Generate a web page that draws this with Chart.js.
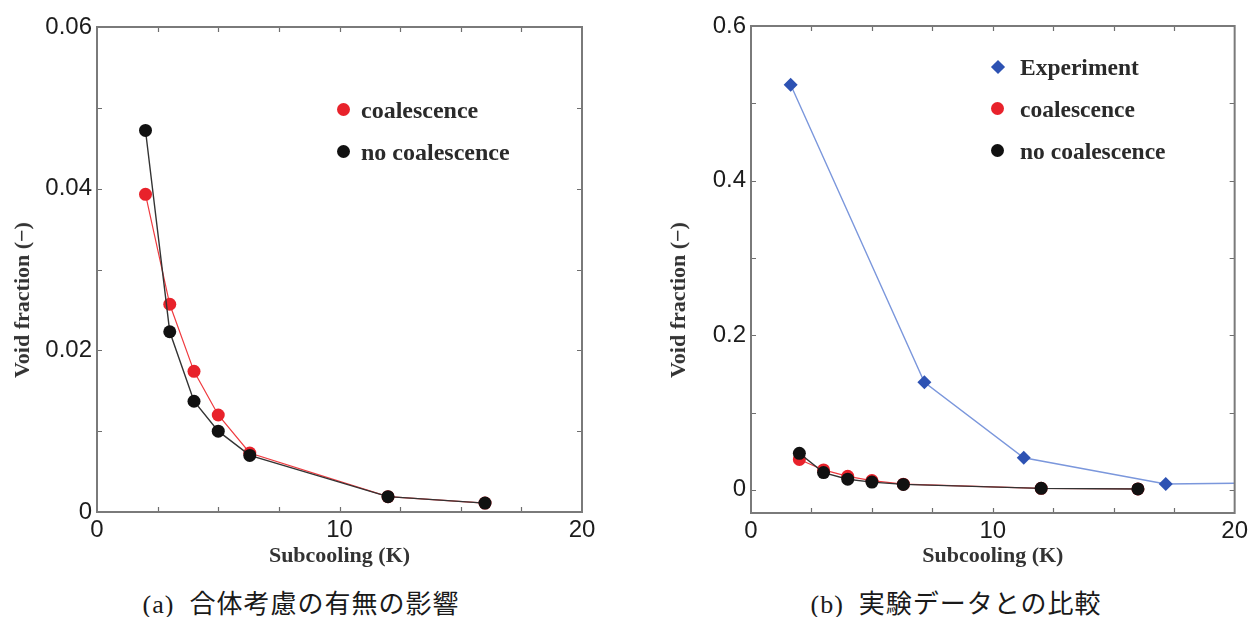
<!DOCTYPE html>
<html>
<head>
<meta charset="utf-8">
<script src="https://cdn.jsdelivr.net/npm/chart.js@4.4.1/dist/chart.umd.min.js"></script>
<style>
  html, body { margin: 0; padding: 0; background: #fff; }
  body { width: 1252px; height: 617px; position: relative; overflow: hidden; }
  .box { position: absolute; top: 0; height: 580px; }
  #boxA { left: 0; width: 620px; }
  #boxB { left: 630px; width: 622px; }
  .caption { position: absolute; top: 591px; line-height: 28px; height: 28px; font-size: 26px; font-family: "Liberation Serif", "Noto Sans CJK JP", serif; letter-spacing: 1px; color: #1a1a1a; white-space: pre; transform: translateX(-50%); }
  .ytitle { position: absolute; top: 300px; font: bold 22px "Liberation Serif", serif; color: #333; white-space: nowrap; transform: translate(-50%, -50%) rotate(-90deg); }
  .legend { position: absolute; font: bold 24px "Liberation Serif", serif; color: #2a2a2a; }
  .legend .row { position: absolute; white-space: nowrap; height: 26px; line-height: 26px; }
  .legend .mk { position: absolute; left: 0; top: 6px; width: 13px; height: 13px; border-radius: 50%; }
  .legend .dia { position: absolute; left: 2px; top: 8px; width: 10px; height: 10px; transform: rotate(45deg); background: #2d52b3; }
  .legend .tx { position: absolute; left: 24px; top: 0; }
</style>
</head>
<body>
<div class="box" id="boxA"><canvas id="chartA"></canvas></div>
<div class="box" id="boxB"><canvas id="chartB"></canvas></div>

<div class="ytitle" style="left:22px;">Void fraction (−)</div>
<div class="ytitle" style="left:678px;">Void fraction (−)</div>

<div class="legend" style="left:337px; top:97px;">
  <div class="row" style="top:0;"><span class="mk" style="background:#e8222b;"></span><span class="tx">coalescence</span></div>
  <div class="row" style="top:42px;"><span class="mk" style="background:#111;"></span><span class="tx">no coalescence</span></div>
</div>
<div class="legend" style="left:991px; top:54px; font-size:23.5px;">
  <div class="row" style="top:0;"><span class="dia"></span><span class="tx" style="left:29px;">Experiment</span></div>
  <div class="row" style="top:42px;"><span class="mk" style="background:#e8222b;"></span><span class="tx" style="left:29px;">coalescence</span></div>
  <div class="row" style="top:84px;"><span class="mk" style="background:#111;"></span><span class="tx" style="left:29px;">no coalescence</span></div>
</div>

<div class="caption" style="left:301px;">(a)  合体考慮の有無の影響</div>
<div class="caption" style="left:956px;">(b)  実験データとの比較</div>

<script>
// ---------- data ----------
const subcooling      = [2, 3, 4, 5, 6.3, 12, 16];
const coalescence     = [0.0393, 0.0257, 0.0174, 0.0120, 0.0073, 0.0019, 0.0011];
const noCoalescence   = [0.0472, 0.0223, 0.0137, 0.0100, 0.0070, 0.0019, 0.0011];
const expSubcooling   = [1.64, 7.17, 11.28, 17.15, 24];
const expVoid         = [0.524, 0.139, 0.0415, 0.0075, 0.010];

// ---------- ticks ----------
const xTickValues   = [0, 2.5, 5, 7.5, 10, 12.5, 15, 17.5, 20];
const xLabelValues  = [0, 10, 20];
const yTickValuesA  = [0, 0.01, 0.02, 0.03, 0.04, 0.05, 0.06];
const yLabelValuesA = [0, 0.02, 0.04, 0.06];
const yTickValuesB  = [0, 0.1, 0.2, 0.3, 0.4, 0.5, 0.6];
const yLabelValuesB = [0, 0.2, 0.4, 0.6];

const labelsFor = (vals, dec) => v => {
  const hit = vals.some(t => Math.abs(t - v) < 1e-9);
  if (!hit) return '';
  return v === 0 ? '0' : (dec ? v.toFixed(dec) : String(v));
};

// inward tick marks on all four sides + frame
const framePlugin = {
  id: 'frame',
  afterDatasetsDraw(chart) {
    const {ctx, chartArea: a, scales: {x, y}} = chart;
    ctx.save();
    ctx.strokeStyle = '#6e6e6e';
    ctx.lineWidth = 1.2;
    const L = 5;
    ctx.beginPath();
    x.ticks.forEach(t => {
      const px = Math.round(x.getPixelForValue(t.value)) + 0.5;
      if (px <= a.left + 1 || px >= a.right - 1) return;
      ctx.moveTo(px, a.bottom); ctx.lineTo(px, a.bottom - L);
      ctx.moveTo(px, a.top); ctx.lineTo(px, a.top + L);
    });
    y.ticks.forEach(t => {
      const py = Math.round(y.getPixelForValue(t.value)) + 0.5;
      if (py <= a.top + 1 || py >= a.bottom - 1) return;
      ctx.moveTo(a.left, py); ctx.lineTo(a.left + L, py);
      ctx.moveTo(a.right, py); ctx.lineTo(a.right - L, py);
    });
    ctx.stroke();
    ctx.strokeStyle = '#7a7a7a';
    ctx.lineWidth = 2;
    ctx.strokeRect(a.left, a.top, a.right - a.left, a.bottom - a.top);
    ctx.restore();
  }
};

const tickFont  = {family: '"Liberation Sans", Arial, sans-serif', size: 24};
const titleFont = {family: '"Liberation Serif", serif', size: 22, weight: 'bold', lineHeight: 1.1};

function makeOptions(cfg) {
  return {
    responsive: false,
    animation: false,
    events: [],
    layout: {padding: {left: 0, right: cfg.padRight, top: cfg.padTop, bottom: 12}},
    plugins: {legend: {display: false}, tooltip: {enabled: false}},
    scales: {
      x: {
        type: 'linear', min: 0, max: 20,
        afterBuildTicks: s => { s.ticks = xTickValues.map(v => ({value: v})); },
        afterFit: s => { s.height = cfg.xHeight; },
        grid: {display: false, drawTicks: false},
        border: {display: false},
        ticks: {autoSkip: false, maxRotation: 0, padding: 4, color: '#1c1c1c', font: tickFont,
                callback: labelsFor(xLabelValues, 0)},
        title: {display: true, text: 'Subcooling (K)', color: '#333', font: titleFont, padding: {top: 0, bottom: 0}}
      },
      y: {
        type: 'linear', min: cfg.yMin, max: cfg.yMax,
        afterBuildTicks: s => { s.ticks = cfg.yTicks.map(v => ({value: v})); },
        afterFit: s => { s.width = cfg.yWidth; },
        grid: {display: false, drawTicks: false},
        border: {display: false},
        ticks: {autoSkip: false, padding: 5, color: '#1c1c1c', font: tickFont,
                callback: labelsFor(cfg.yLabels, cfg.dec)},
        title: {display: false}
      }
    }
  };
}

const pts = (xs, ys) => xs.map((x, i) => ({x, y: ys[i]}));

const redSet = () => ({
  label: 'coalescence', data: pts(subcooling, coalescence), order: 2,
  borderColor: '#ef3a3f', borderWidth: 1.2, backgroundColor: '#e8222b',
  pointRadius: 6.5, pointBorderWidth: 0, pointStyle: 'circle', tension: 0
});
const blackSet = () => ({
  label: 'no coalescence', data: pts(subcooling, noCoalescence), order: 1,
  borderColor: '#333', borderWidth: 1.4, backgroundColor: '#111',
  pointRadius: 6.5, pointBorderWidth: 0, pointStyle: 'circle', tension: 0
});

const cA = document.getElementById('chartA');
cA.width = 620; cA.height = 580;
new Chart(cA, {
  type: 'line',
  data: {datasets: [redSet(), blackSet()]},
  options: makeOptions({padRight: 38, padTop: 27, xHeight: 56, yWidth: 97, yMin: 0, yMax: 0.06,
                        yTicks: yTickValuesA, yLabels: yLabelValuesA, dec: 2}),
  plugins: [framePlugin]
});

const cB = document.getElementById('chartB');
cB.width = 622; cB.height = 580;
new Chart(cB, {
  type: 'line',
  data: {datasets: [
    {label: 'Experiment', data: pts(expSubcooling, expVoid), order: 3,
     borderColor: '#7b97dc', borderWidth: 1.4, backgroundColor: '#2d52b3',
     pointRadius: 7, pointBorderWidth: 0, pointStyle: 'rectRot', tension: 0, clip: 0},
    redSet(),
    blackSet()
  ]},
  options: makeOptions({padRight: 16, padTop: 26, xHeight: 55, yWidth: 121, yMin: -0.03, yMax: 0.6,
                        yTicks: yTickValuesB, yLabels: yLabelValuesB, dec: 1}),
  plugins: [framePlugin]
});
</script>
</body>
</html>
